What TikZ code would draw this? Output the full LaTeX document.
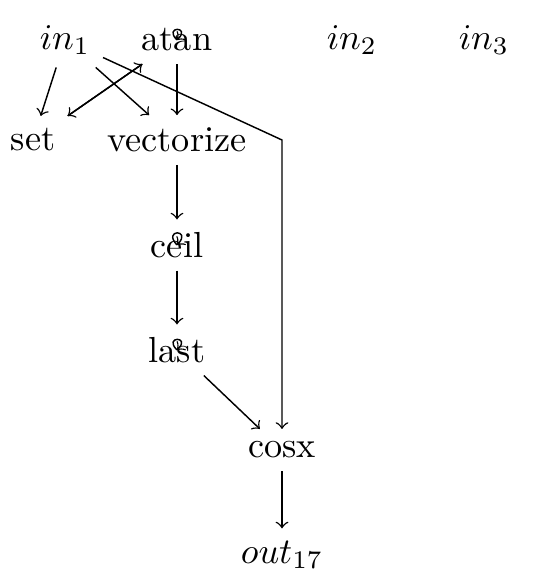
\documentclass[tikz,border=0pt]{standalone}
\usetikzlibrary{arrows}
\begin{document}
\begin{tikzpicture}[x=0.276pt,y=-0.276pt,
  lbl/.style={inner sep=0.333em},
  edge/.style={->},
  selfloop/.style={->,shorten >=0pt,shorten <=0pt}]
\useasboundingbox (0,0) rectangle (553,588);
\node[lbl] (in1) at (65,40) {$in_1$};
\node[lbl] (atan) at (177,40) {atan};
\node[lbl] (in2) at (352,40) {$in_2$};
\node[lbl] (in3) at (484,40) {$in_3$};
\node[lbl] (set) at (33,140) {set};
\node[lbl] (vec) at (177,140) {vectorize};
\node[lbl] (ceil) at (177,245) {ceil};
\node[lbl] (last) at (177,350) {last};
\node[lbl] (cosx) at (282,450) {cosx};
\node[lbl] (out) at (282,555) {$out_{17}$};
\coordinate (bend) at (282,140);
\draw[edge] (in1) -- (set);
\draw[edge] (in1) -- (vec);
\draw[edge] (in1) -- (bend) -- (cosx);
\draw[edge] (atan) -- (vec);
\draw[edge] (set) -- (atan);
\draw[edge] (atan) -- (set);
\draw[edge] (vec) -- (ceil);
\draw[edge] (ceil) -- (last);
\draw[edge] (last) -- (cosx);
\draw[edge] (cosx) -- (out);
\draw[selfloop] (atan.center) .. controls +(-14,-14) and +(14,-14) .. (atan.center);
\draw[selfloop] (ceil.center) .. controls +(-15,-16) and +(15,-16) .. (ceil.center);
\draw[selfloop] (last.center) .. controls +(-14,-14) and +(14,-14) .. (last.center);
\end{tikzpicture}
\end{document}
